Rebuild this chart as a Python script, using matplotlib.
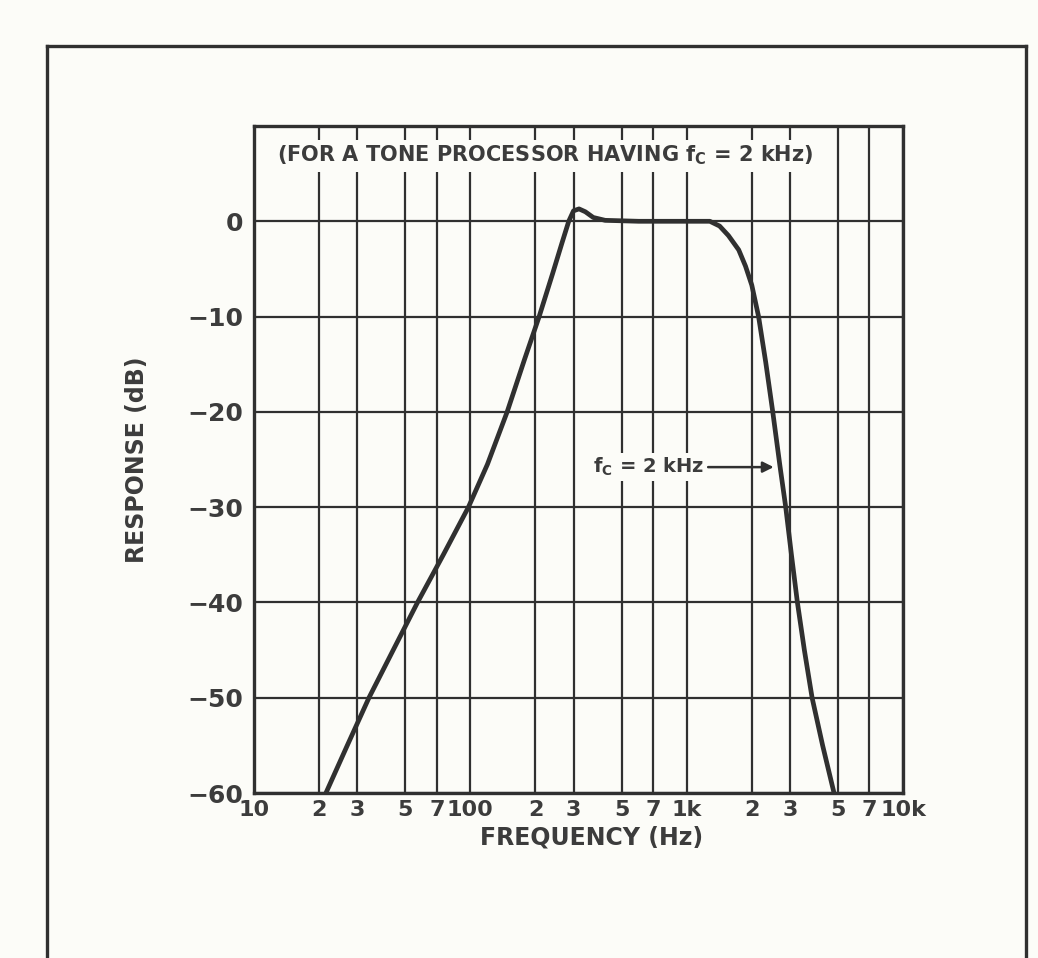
import matplotlib
matplotlib.use('Agg')
import matplotlib.pyplot as plt
from matplotlib.lines import Line2D

# response curve (Hz, dB)
freq = [21.5, 27, 34, 44, 57, 75, 98, 120, 148, 178, 208, 240, 265, 285, 300, 318, 340,
        370, 420, 600, 1000, 1280, 1420, 1560, 1740, 1870, 2000, 2150, 2320, 2500,
        2700, 2870, 3050, 3250, 3500, 3800, 4250, 4800]
resp = [-60, -55, -50, -45, -40, -35, -30, -25.5, -20, -14.5, -10, -5.5, -2.3, 0, 1.1, 1.3, 1.0,
        0.4, 0.1, 0, 0, 0, -0.5, -1.5, -3.0, -4.7, -6.7, -10, -14.8, -20,
        -25.7, -30, -35, -40, -45, -50, -55, -60]

xticks = [10, 20, 30, 50, 70, 100, 200, 300, 500, 700, 1000, 2000, 3000, 5000, 7000, 10000]
xlabels = ['10', '2', '3', '5', '7', '100', '2', '3', '5', '7', '1k', '2', '3', '5', '7', '10k']
yticks = [0, -10, -20, -30, -40, -50, -60]
ylabels = ['0', '\u221210', '\u221220', '\u221230', '\u221240', '\u221250', '\u221260']

ink = '#303030'
txt = '#3c3c3c'
bg = '#fcfcf8'

fig = plt.figure(figsize=(10.38, 9.58), dpi=100, facecolor=bg)
ax = fig.add_axes([254/1038, 1-793/958, (903-254)/1038, (793-126)/958])
ax.set_facecolor(bg)
ax.set_xscale('log')
ax.set_xlim(10, 10000)
ax.set_ylim(-60, 10)

ax.set_xticks(xticks)
ax.set_xticklabels(xlabels, fontsize=16, fontweight='bold')
ax.xaxis.set_minor_locator(matplotlib.ticker.NullLocator())
ax.set_yticks(yticks)
ax.set_yticklabels(ylabels, fontsize=18, fontweight='bold')
ax.tick_params(axis='both', length=0, colors=txt)
ax.tick_params(axis='x', pad=5)
ax.tick_params(axis='y', pad=8)

ax.grid(True, which='major', color=ink, lw=1.6)
ax.set_axisbelow(True)
for s in ax.spines.values():
    s.set_color(ink)
    s.set_linewidth(2.4)

ax.plot(freq, resp, color=ink, lw=3.4, solid_joinstyle='round', solid_capstyle='round', zorder=3)

ax.text(222, 6.9, r'(FOR A TONE PROCESSOR HAVING f$_\mathregular{C}$ = 2 kHz)',
        ha='center', va='center', fontsize=15, fontweight='bold', color=txt,
        bbox=dict(facecolor=bg, edgecolor='none', pad=3), zorder=4)

ax.annotate('', xy=(2600, -25.8), xytext=(1220, -25.8),
            arrowprops=dict(arrowstyle='-|>', color=ink, lw=1.8, mutation_scale=16), zorder=4)
ax.text(1200, -25.8, r'f$_\mathregular{C}$ = 2 kHz', ha='right', va='center', fontsize=14,
        fontweight='bold', color=txt, bbox=dict(facecolor=bg, edgecolor='none', pad=2), zorder=4)

ax.set_xlabel('FREQUENCY (Hz)', fontsize=17, fontweight='bold', color=txt)
ax.xaxis.set_label_coords(0.52, -0.048)
ax.set_ylabel('RESPONSE (dB)', fontsize=17, fontweight='bold', color=txt)
ax.yaxis.set_label_coords(-0.162, 0.5)

# outer frame of the scanned figure (bottom edge is cut off)
fx0, fx1, fy1 = 47/1038, 1026/1038, 1-46/958
for xs, ys in [([fx0, fx1], [fy1, fy1]), ([fx0, fx0], [fy1, 0]), ([fx1, fx1], [fy1, 0])]:
    fig.add_artist(Line2D(xs, ys, transform=fig.transFigure, color=ink, lw=2.4))

fig.savefig('out.png', dpi=100, facecolor=bg)
